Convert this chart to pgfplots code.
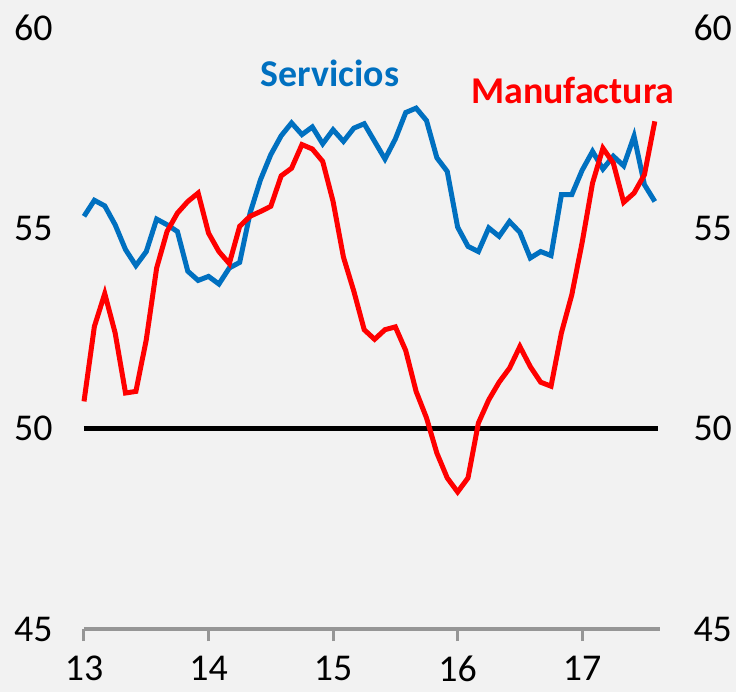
\documentclass[border=0pt]{standalone}
\usepackage{fontspec}
\setmainfont{Carlito}
\usepackage{pgfplots}
\usepackage{pgfplotstable}
\pgfplotsset{compat=1.18}
\usetikzlibrary{backgrounds}
\definecolor{bg}{HTML}{F2F2F2}
\definecolor{serv}{HTML}{0070C0}
\definecolor{manu}{HTML}{FF0000}
\definecolor{axgray}{HTML}{969696}

\pgfplotstableread{
i serv manu
0 55.30 50.68
1 55.70 52.55
2 55.56 53.37
3 55.09 52.39
4 54.47 50.89
5 54.07 50.93
6 54.42 52.22
7 55.23 54.01
8 55.09 54.92
9 54.92 55.38
10 53.93 55.67
11 53.70 55.88
12 53.80 54.88
13 53.61 54.42
14 54.01 54.12
15 54.15 55.05
16 55.38 55.30
17 56.21 55.42
18 56.84 55.55
19 57.31 56.31
20 57.63 56.50
21 57.34 57.09
22 57.53 56.98
23 57.11 56.67
24 57.46 55.67
25 57.17 54.28
26 57.50 53.43
27 57.61 52.47
28 57.17 52.23
29 56.73 52.47
30 57.23 52.54
31 57.89 51.95
32 58.00 50.93
33 57.69 50.27
34 56.76 49.39
35 56.42 48.77
36 55.03 48.42
37 54.55 48.77
38 54.42 50.14
39 55.01 50.72
40 54.80 51.16
41 55.17 51.51
42 54.90 52.05
43 54.26 51.55
44 54.42 51.16
45 54.32 51.06
46 55.84 52.39
47 55.84 53.34
48 56.45 54.65
49 56.92 56.13
50 56.48 57.00
51 56.80 56.63
52 56.56 55.65
53 57.30 55.88
54 56.09 56.34
55 55.67 57.67
}\data

\begin{document}
\begin{tikzpicture}
\begin{axis}[
  scale only axis, width=576bp, height=601bp,
  xmin=0, xmax=55.5, ymin=45, ymax=60,
  axis line style={draw=none},
  xtick={0,12,24,36,48}, xticklabels={13,14,15,16,17},
  xtick pos=bottom, ytick pos=left,
  ytick={45,50,55,60},
  tick align=outside, major tick length=12bp,
  xtick style={axgray, line width=3bp},
  ytick style={draw=none},
  /pgf/number format/assume math mode=true,
  ticklabel style={font=\fontsize{38}{45}\selectfont, text=black},
  xticklabel style={inner sep=0pt, yshift=-15bp},
  yticklabel style={xshift=-16bp},
  clip=false,
]
\draw[axgray, line width=4bp] (rel axis cs:0,0) -- (rel axis cs:1,0);
\coordinate (sw) at (rel axis cs:0,0);
\coordinate (ne) at (rel axis cs:1,1);
\addplot[black, line width=5bp, no marks] coordinates {(0,50) (55.3,50)};
\addplot[serv, line width=5bp, no marks, line join=miter] table[x=i, y=serv] {\data};
\addplot[manu, line width=5bp, no marks, line join=miter] table[x=i, y=manu] {\data};
\node[serv, font=\bfseries\fontsize{38}{45}\selectfont] at (axis cs:23.7,58.88) {Servicios};
\node[manu, font=\bfseries\fontsize{38}{45}\selectfont] at (axis cs:47.1,58.43) {Manufactura};
\end{axis}
\begin{axis}[
  scale only axis, width=576bp, height=601bp,
  xmin=0, xmax=55.5, ymin=45, ymax=60,
  axis line style={draw=none},
  xtick=\empty,
  ytick={45,50,55,60},
  ytick pos=right, yticklabel pos=right,
  tick align=outside, major tick length=12bp,
  ytick style={draw=none},
  /pgf/number format/assume math mode=true,
  ticklabel style={font=\fontsize{38}{45}\selectfont, text=black},
  yticklabel style={xshift=18bp},
]
\end{axis}
\begin{scope}[on background layer]
\fill[bg] ([xshift=-84bp,yshift=-63bp]sw) rectangle ([xshift=76bp,yshift=28bp]ne);
\end{scope}
\pgfresetboundingbox
\useasboundingbox ([xshift=-84bp,yshift=-63bp]sw) rectangle ([xshift=76bp,yshift=28bp]ne);
\end{tikzpicture}
\end{document}
